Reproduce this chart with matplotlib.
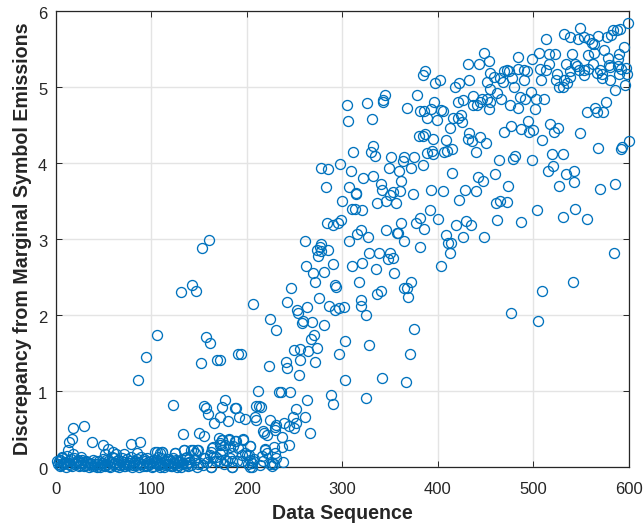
import matplotlib
matplotlib.use("Agg")
import matplotlib.pyplot as plt
from matplotlib.transforms import ScaledTranslation

# grouped by where they sit in the cloud
upper_seq = [599, 549, 513, 532, 538, 547, 553, 558, 568, 577, 581, 583, 587, 591, 561, 563, 595, 574, 448, 506,
             516, 523, 540, 484, 498, 454, 443, 432, 563, 557, 590, 588, 578, 534, 544, 516, 562, 546, 579, 588,
             597, 507, 548, 553, 557, 570, 592, 386, 384, 472, 469, 484, 490, 493, 455, 513, 525, 538, 566, 580,
             598, 590, 572, 553, 538, 474, 459, 465, 402, 397, 433, 422, 418, 451, 468, 478, 490, 508, 524, 532,
             580, 572, 480, 535, 527, 531, 596, 585, 455, 462, 497, 437, 426, 421, 446, 451, 466, 486, 491, 503,
             511, 396, 437, 441, 444, 455, 475, 484, 502, 453, 576, 564, 556, 566, 573, 393, 385, 403, 405, 399,
             389, 424, 416, 421, 425, 413, 494, 477, 487, 469, 495, 500, 517, 526, 522, 549, 433, 387, 384, 395,
             444, 431, 436, 450, 509, 408, 568, 600, 593, 592, 440, 415, 406, 410, 394, 389, 395, 519, 531, 481,
             464, 498, 479]
upper_disc = [5.85, 5.78, 5.64, 5.70, 5.66, 5.64, 5.66, 5.64, 5.68, 5.66, 5.69, 5.76, 5.76, 5.77, 5.58, 5.57, 5.53, 5.49, 5.45, 5.45,
              5.44, 5.44, 5.44, 5.40, 5.37, 5.35, 5.31, 5.30, 5.45, 5.42, 5.44, 5.37, 5.38, 5.30, 5.31, 5.30, 5.31, 5.28, 5.29, 5.28,
              5.25, 5.24, 5.23, 5.23, 5.24, 5.23, 5.24, 5.21, 5.16, 5.23, 5.21, 5.24, 5.23, 5.21, 5.19, 5.23, 5.17, 5.21, 5.19, 5.26,
              5.17, 5.17, 5.18, 5.16, 5.14, 5.21, 5.14, 5.12, 5.09, 5.05, 5.10, 5.05, 5.00, 5.07, 5.07, 5.12, 5.09, 5.10, 5.09, 5.10,
              5.09, 5.12, 5.00, 5.05, 5.00, 5.00, 5.03, 4.96, 4.97, 4.92, 4.94, 4.88, 4.83, 4.81, 4.85, 4.84, 4.84, 4.87, 4.84, 4.84,
              4.85, 4.81, 4.77, 4.77, 4.81, 4.81, 4.77, 4.72, 4.71, 4.71, 4.81, 4.72, 4.67, 4.67, 4.67, 4.71, 4.69, 4.70, 4.68, 4.57,
              4.60, 4.63, 4.60, 4.59, 4.54, 4.46, 4.55, 4.49, 4.45, 4.41, 4.41, 4.43, 4.52, 4.46, 4.41, 4.39, 4.39, 4.38, 4.36, 4.32,
              4.35, 4.32, 4.29, 4.27, 4.30, 4.30, 4.20, 4.29, 4.21, 4.18, 4.15, 4.18, 4.15, 4.16, 4.16, 4.13, 4.12, 4.12, 4.12, 4.09,
              4.04, 4.04, 4.06]

right_seq = [384, 415, 442, 447, 460, 515, 520, 534, 542, 542, 527, 570, 585, 473, 393, 405, 428, 440, 422, 461, 465, 472,
             392, 504, 544, 531, 556, 400, 462, 487, 429, 419, 435, 381, 385, 408, 426, 448, 411, 414, 381, 413, 584, 403,
             541, 509, 476, 505]
right_disc = [3.97, 3.87, 3.82, 3.77, 3.86, 3.89, 3.96, 3.86, 3.89, 3.75, 3.70, 3.66, 3.72, 3.70, 3.65, 3.63, 3.65, 3.63, 3.52, 3.47, 3.50, 3.49,
              3.38, 3.38, 3.40, 3.29, 3.26, 3.26, 3.25, 3.23, 3.24, 3.19, 3.19, 3.28, 3.13, 3.05, 3.02, 3.03, 2.95, 2.95, 2.90, 2.82, 2.82, 2.65,
              2.43, 2.32, 2.03, 1.92]

middle_seq = [345, 378, 305, 326, 343, 343, 368, 381, 306, 331, 380, 332, 330, 334, 311, 351, 365, 375, 363, 298, 278, 285,
              309, 349, 359, 372, 322, 332, 340, 361, 283, 307, 341, 314, 314, 353, 360, 350, 374, 300, 336, 346, 356, 310,
              313, 321, 299, 295, 290, 284, 377, 361, 320, 315, 327, 346, 357, 358, 261, 278, 307, 365, 277, 273, 285, 278,
              274, 328, 338, 350, 348, 353, 321, 310, 262, 290, 335, 269, 281, 354, 271, 317, 372, 292, 293, 246, 364, 340,
              368, 336]
middle_disc = [4.90, 4.90, 4.76, 4.79, 4.83, 4.80, 4.72, 4.69, 4.55, 4.58, 4.36, 4.23, 4.14, 4.09, 4.15, 4.08, 4.08, 4.08, 4.03, 3.99, 3.94, 3.92,
               3.89, 3.94, 3.90, 3.94, 3.80, 3.83, 3.72, 3.77, 3.69, 3.69, 3.65, 3.60, 3.59, 3.62, 3.63, 3.58, 3.59, 3.50, 3.47, 3.50, 3.47, 3.40,
               3.40, 3.38, 3.25, 3.21, 3.19, 3.21, 3.21, 3.21, 3.12, 3.07, 3.03, 3.12, 3.08, 3.08, 2.97, 2.94, 2.97, 2.97, 2.90, 2.86, 2.86, 2.84,
               2.78, 2.81, 2.82, 2.82, 2.74, 2.75, 2.68, 2.64, 2.65, 2.67, 2.60, 2.55, 2.57, 2.55, 2.43, 2.43, 2.44, 2.40, 2.37, 2.35, 2.36, 2.31,
               2.35, 2.27]

lower_seq = [276, 319, 369, 206, 242, 253, 263, 254, 286, 292, 296, 302, 319, 325, 224, 259, 258, 268, 281, 231, 375, 270,
             267, 303, 328, 273, 256, 249, 264, 191, 194, 172, 296, 371, 256, 241, 271, 223, 242, 255, 303, 342, 367, 212,
             234, 236, 245, 288, 263, 325, 290, 177, 174, 188, 189, 210, 213, 215, 252, 261, 248, 172, 192, 198, 209, 210,
             180, 224, 239, 252, 231, 230, 244, 249, 217, 218, 221, 230, 266, 237, 181, 174, 188, 196, 177, 186, 203, 244,
             228, 237, 219, 172, 185, 198, 200, 216, 221, 231, 203, 238, 226, 226, 205, 205, 184, 195, 179, 214, 172, 224]
lower_disc = [2.22, 2.20, 2.23, 2.15, 2.17, 2.06, 2.10, 2.02, 2.12, 2.06, 2.09, 2.10, 2.12, 2.00, 1.95, 1.92, 1.89, 1.90, 1.87, 1.80, 1.82, 1.73,
              1.68, 1.66, 1.61, 1.57, 1.55, 1.54, 1.52, 1.49, 1.49, 1.41, 1.49, 1.49, 1.41, 1.38, 1.38, 1.33, 1.30, 1.21, 1.14, 1.17, 1.12, 1.00,
              0.99, 0.99, 0.98, 0.95, 0.88, 0.90, 0.83, 0.88, 0.79, 0.77, 0.77, 0.80, 0.80, 0.79, 0.76, 0.65, 0.65, 0.65, 0.65, 0.63, 0.65, 0.62,
              0.60, 0.62, 0.58, 0.58, 0.55, 0.52, 0.53, 0.51, 0.47, 0.45, 0.42, 0.48, 0.44, 0.39, 0.35, 0.35, 0.34, 0.35, 0.29, 0.27, 0.27, 0.29,
              0.26, 0.26, 0.23, 0.17, 0.18, 0.18, 0.16, 0.14, 0.18, 0.12, 0.09, 0.06, 0.05, 0.01, 0.05, 0.00, 0.00, 0.07, 0.07, 0.02, 0.07, 0.04]

early_seq = [131, 143, 147, 153, 160, 106, 157, 161, 95, 152, 169, 86, 123, 155, 157, 159, 166, 18, 30, 38, 133, 150, 155,
             17, 14, 79, 88, 50, 13, 171, 55, 60, 164, 172, 134, 144, 149, 106, 111, 18, 7, 1, 71, 85, 52, 125, 109, 63,
             174, 165, 162, 146, 137, 168, 163, 149]
early_disc = [2.30, 2.39, 2.31, 2.88, 2.99, 1.73, 1.71, 1.63, 1.45, 1.37, 1.41, 1.14, 0.81, 0.80, 0.77, 0.69, 0.57, 0.51, 0.54, 0.32, 0.43, 0.44, 0.41,
              0.36, 0.33, 0.30, 0.32, 0.29, 0.22, 0.38, 0.23, 0.20, 0.25, 0.31, 0.22, 0.22, 0.22, 0.20, 0.20, 0.17, 0.13, 0.08, 0.17, 0.18, 0.17, 0.18, 0.18, 0.17,
              0.22, 0.13, 0.15, 0.18, 0.13, 0.07, 0.00, 0.04]

floor_seq = [2, 4, 5, 8, 10, 11, 15, 16, 20, 22, 24, 26, 28, 31, 33, 35, 37, 40, 42, 44, 46, 48, 51, 53, 56, 58, 61, 64,
             66, 68, 70, 73, 75, 77, 81, 83, 87, 90, 92, 94, 97, 99, 101, 103, 105, 108, 110, 113, 115, 117, 119, 121,
             124, 127, 129, 132, 135, 138, 140, 142, 145, 148, 151, 154, 156, 158, 176, 182, 190, 201, 208]
floor_disc = [0.04, 0.01, 0.09, 0.03, 0.06, 0.00, 0.02, 0.10, 0.03, 0.07, 0.01, 0.05, 0.09, 0.02, 0.06, 0.00, 0.04, 0.01, 0.08, 0.03, 0.00, 0.05, 0.02, 0.09,
              0.01, 0.06, 0.11, 0.03, 0.00, 0.07, 0.04, 0.01, 0.10, 0.05, 0.02, 0.08, 0.00, 0.04, 0.10, 0.01, 0.06, 0.03, 0.00, 0.09, 0.05, 0.02, 0.12, 0.00,
              0.07, 0.03, 0.10, 0.01, 0.05, 0.00, 0.08, 0.03, 0.11, 0.01, 0.06, 0.02, 0.09, 0.00, 0.05, 0.02, 0.12, 0.06, 0.03, 0.11, 0.08, 0.03, 0.10]

# second pass over the crowded stretch along the bottom
cluster_seq = [104, 111, 125, 134, 142, 148, 163, 165, 174, 181, 189, 196, 203, 172, 182, 191, 168, 177, 184, 195, 202, 207,
               219, 217, 230, 228, 184, 163, 203, 146, 137, 120, 109, 127, 155]
cluster_disc = [0.20, 0.20, 0.18, 0.22, 0.22, 0.22, 0.20, 0.26, 0.35, 0.36, 0.34, 0.36, 0.27, 0.29, 0.26, 0.24, 0.13, 0.09, 0.07, 0.15, 0.15, 0.07,
                0.22, 0.07, 0.18, 0.04, 0.00, 0.00, 0.00, 0.09, 0.05, 0.02, 0.04, 0.07, 0.11]

bottom_seq = [3, 6, 7, 9, 12, 13, 14, 17, 19, 21, 23, 25, 27, 29, 30, 32, 34, 36, 38, 39, 41, 43, 45, 47, 49, 50, 52, 54,
              55, 57, 59, 60, 62, 63, 65, 67, 69, 71, 72, 74, 76, 78, 79, 80, 82, 84, 85, 86, 88, 89, 91, 93, 95, 96,
              98, 100, 102, 104, 106, 107, 109, 112, 114, 116, 118, 120, 122, 123, 125, 126, 128, 130, 131, 133, 136, 139]
bottom_disc = [0.07, 0.02, 0.12, 0.05, 0.14, 0.03, 0.08, 0.01, 0.11, 0.05, 0.09, 0.02, 0.13, 0.06, 0.01, 0.08, 0.03, 0.05, 0.01, 0.09, 0.04, 0.00, 0.07, 0.02,
               0.05, 0.10, 0.01, 0.04, 0.07, 0.00, 0.13, 0.03, 0.05, 0.01, 0.09, 0.02, 0.12, 0.06, 0.01, 0.04, 0.02, 0.08, 0.13, 0.00, 0.05, 0.02, 0.10, 0.06,
               0.03, 0.13, 0.01, 0.07, 0.02, 0.12, 0.04, 0.08, 0.01, 0.06, 0.03, 0.13, 0.00, 0.05, 0.02, 0.10, 0.04, 0.07, 0.01, 0.12, 0.03, 0.09, 0.02, 0.06,
               0.00, 0.05, 0.02, 0.10]

seq_groups = [upper_seq, right_seq, middle_seq, lower_seq, early_seq, floor_seq, cluster_seq, bottom_seq]
disc_groups = [upper_disc, right_disc, middle_disc, lower_disc, early_disc, floor_disc, cluster_disc, bottom_disc]

x_ticks = [0, 100, 200, 300, 400, 500, 600]
y_ticks = [0, 1, 2, 3, 4, 5, 6]


def main():
    plt.rcParams["font.family"] = ["Liberation Sans", "DejaVu Sans"]
    fig = plt.figure(figsize=(6.43, 5.25), dpi=100)
    ax = fig.add_axes([55.7 / 643, 1 - 466.7 / 525, (629 - 55.7) / 643, (466.7 - 11.3) / 525])

    for seq, disc in zip(seq_groups, disc_groups):
        ax.plot(seq, disc, linestyle="none", marker="o", markersize=7.2, markerfacecolor="none",
                markeredgecolor="#0072BD", markeredgewidth=0.95, clip_on=False, zorder=3)

    ax.set_xlim(0, 600)
    ax.set_ylim(0, 6)
    ax.set_xticks(x_ticks)
    ax.set_yticks(y_ticks)
    ax.grid(True, color="#E4E4E4", linewidth=1.0)
    ax.set_axisbelow(True)
    ax.tick_params(direction="in", length=4.3, width=0.7, color="#262626", labelcolor="#262626",
                   labelsize=12, top=True, right=True)
    ax.tick_params(axis="x", pad=11)
    ax.tick_params(axis="y", pad=6)
    # y labels sit a touch under their ticks in the original
    nudge = ScaledTranslation(0, -2 / 100, fig.dpi_scale_trans)
    for label in ax.get_yticklabels():
        label.set_transform(label.get_transform() + nudge)
    for spine in ax.spines.values():
        spine.set_color("#262626")
        spine.set_linewidth(0.9)

    ax.set_xlabel("Data Sequence", fontsize=14.1, fontweight="bold", color="#262626", labelpad=5)
    ax.set_ylabel("Discrepancy from Marginal Symbol Emissions", fontsize=14.1, fontweight="bold",
                  color="#262626", labelpad=4.5)
    fig.savefig("out.png", dpi=100)


if __name__ == "__main__":
    main()
